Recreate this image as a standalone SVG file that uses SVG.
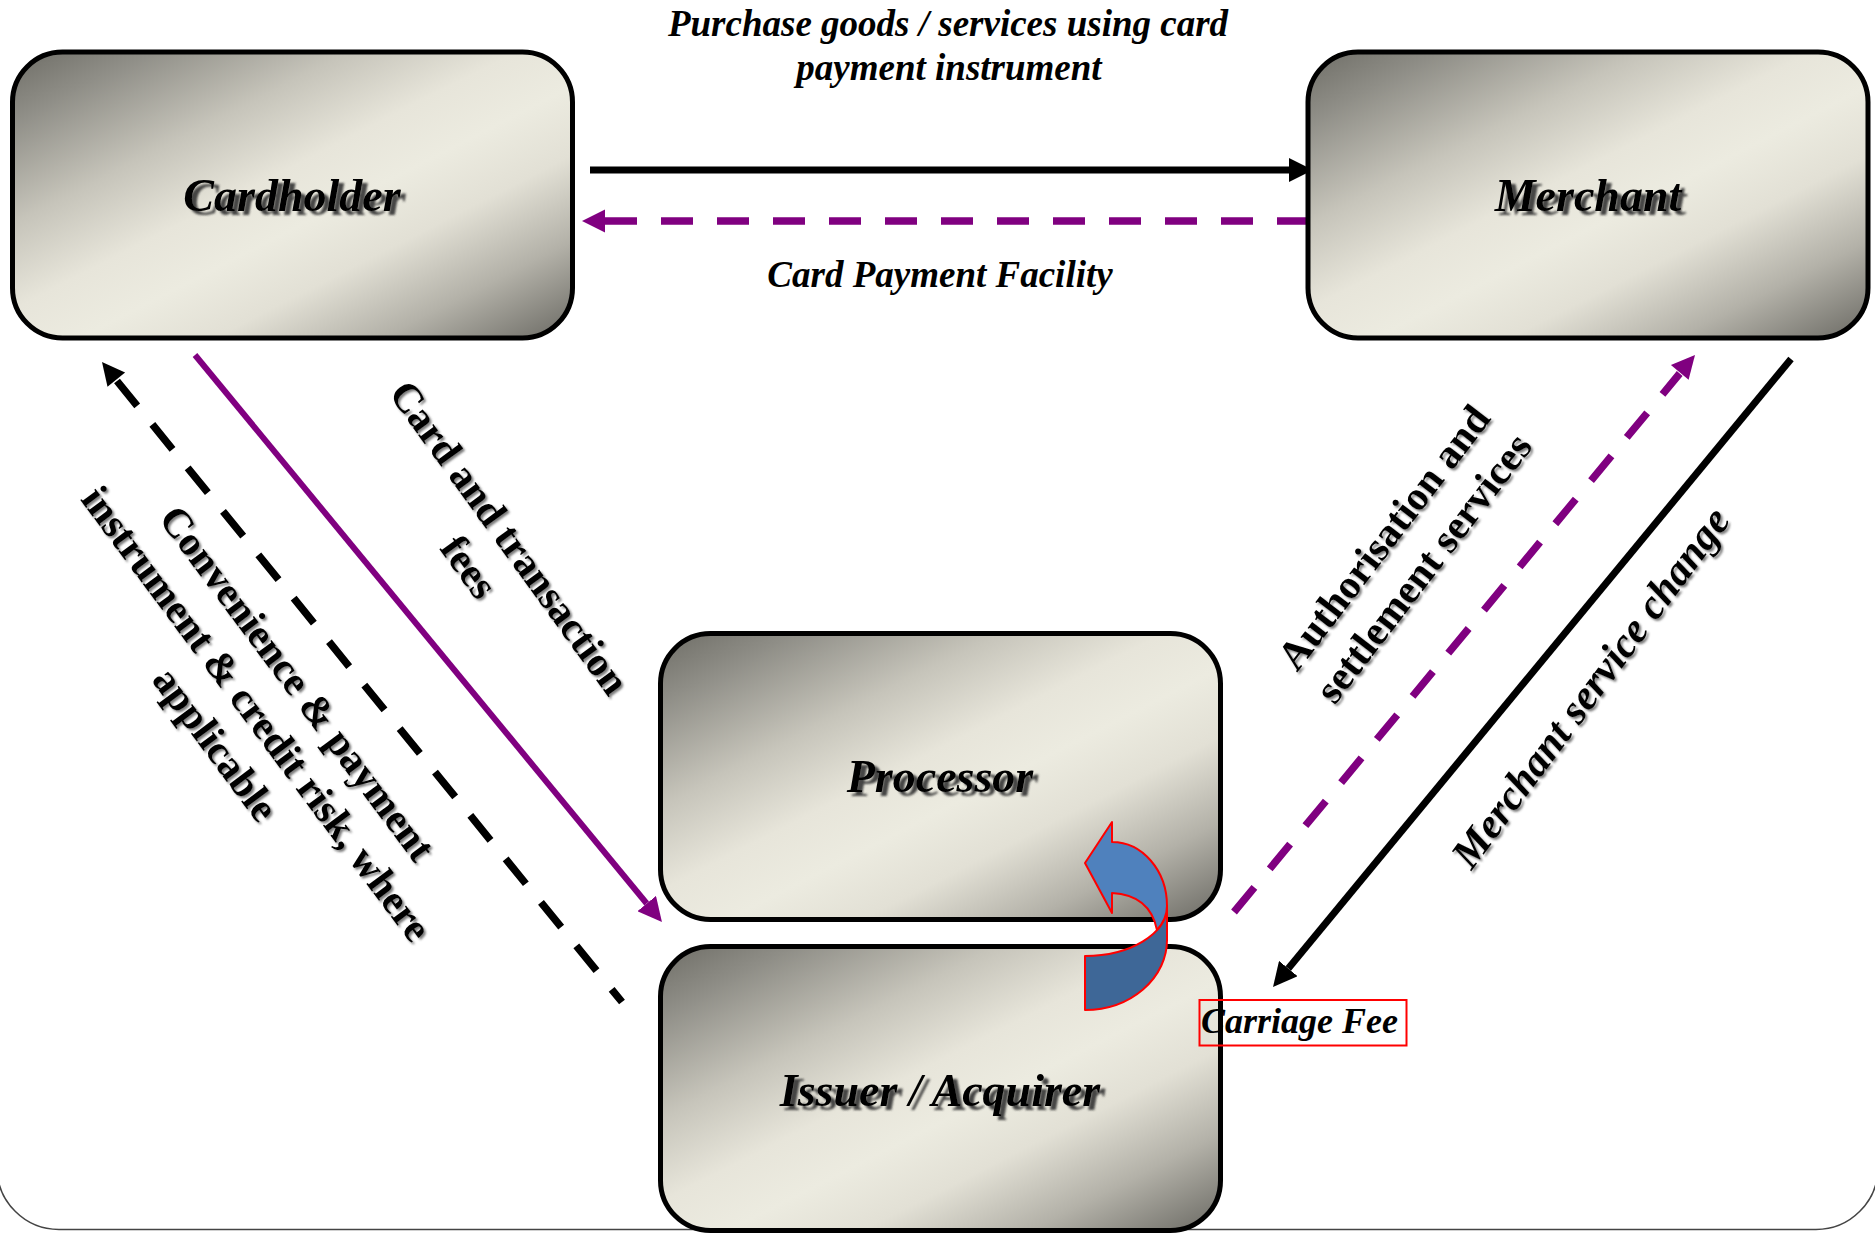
<svg xmlns="http://www.w3.org/2000/svg" width="1875" height="1233" viewBox="0 0 1875 1233">
<defs>
  <linearGradient id="boxg" x1="0" y1="0" x2="1" y2="1">
    <stop offset="0" stop-color="#6e6d66"/>
    <stop offset="0.12" stop-color="#8f8e87"/>
    <stop offset="0.3" stop-color="#c6c4ba"/>
    <stop offset="0.45" stop-color="#e7e5da"/>
    <stop offset="0.56" stop-color="#ecebe0"/>
    <stop offset="0.68" stop-color="#e2e0d5"/>
    <stop offset="0.83" stop-color="#b3b1a8"/>
    <stop offset="1" stop-color="#6a6963"/>
  </linearGradient>
  <filter id="tsh" x="-10%" y="-40%" width="130%" height="190%">
    <feGaussianBlur in="SourceAlpha" stdDeviation="1.3" result="b"/>
    <feOffset in="b" dx="5" dy="4" result="o"/>
    <feFlood flood-color="#333" flood-opacity="0.9"/>
    <feComposite in2="o" operator="in" result="s"/>
    <feMerge><feMergeNode in="s"/><feMergeNode in="SourceGraphic"/></feMerge>
  </filter>
  <filter id="lsh" x="-10%" y="-10%" width="120%" height="120%">
    <feGaussianBlur in="SourceAlpha" stdDeviation="0.9" result="b"/>
    <feOffset in="b" dx="2" dy="2" result="o"/>
    <feFlood flood-color="#444" flood-opacity="0.7"/>
    <feComposite in2="o" operator="in" result="s"/>
    <feMerge><feMergeNode in="s"/><feMergeNode in="SourceGraphic"/></feMerge>
  </filter>
  <marker id="ahK" viewBox="0 0 24 24" refX="0" refY="12" markerWidth="24" markerHeight="24" orient="auto" markerUnits="userSpaceOnUse">
    <path d="M0,0 L24,12 L0,24 Z" fill="#000"/>
  </marker>
  <marker id="ahP" viewBox="0 0 24 24" refX="0" refY="12" markerWidth="24" markerHeight="24" orient="auto" markerUnits="userSpaceOnUse">
    <path d="M0,0 L24,12 L0,24 Z" fill="#800080"/>
  </marker>
  <style>
    .box { fill: url(#boxg); stroke: #000; stroke-width: 5; }
    .title { font-family: "Liberation Serif", "Times New Roman", serif; font-weight: bold; font-style: italic; font-size: 46px; text-anchor: middle; fill: #000; }
    .hl { font-family: "Liberation Serif", "Times New Roman", serif; font-weight: bold; font-style: italic; font-size: 37px; text-anchor: middle; fill: #000; }
    .rl { font-family: "Liberation Serif", "Times New Roman", serif; font-weight: bold; font-size: 41px; text-anchor: middle; fill: #000; }
    .ril { font-family: "Liberation Serif", "Times New Roman", serif; font-weight: bold; font-style: italic; font-size: 42px; text-anchor: middle; fill: #000; }
    .solidK { fill: none; stroke: #000; stroke-width: 7; marker-end: url(#ahK); }
    .dashK { fill: none; stroke: #000; stroke-width: 7.5; stroke-dasharray: 32 24; }
    .solidP { fill: none; stroke: #800080; stroke-width: 6; marker-end: url(#ahP); }
    .dashP { fill: none; stroke: #800080; stroke-width: 7.5; stroke-dasharray: 32 24; }
  </style>
</defs>

<rect x="-3" y="-200" width="1881" height="1429.5" rx="62" fill="none" stroke="#444" stroke-width="1.5"/>

<g id="connectors">
  <path class="solidK" d="M590,170 L1289,170"/>
  <path class="dashP" d="M605,221 L1306,221"/>
  <path d="M605,209.5 L582,221 L605,232.5 Z" fill="#800080"/>
  <path class="solidP" d="M195,355 L646.7,903.5"/>
  <path class="dashK" d="M117,381 L622,1002"/>
  <path d="M102,362 L125.1,372.5 L107.5,386.8 Z" fill="#000"/>
  <path class="dashP" d="M1234,912 L1679.7,373.5"/>
  <path d="M1695,355 L1688.6,379.7 L1670.9,365.1 Z" fill="#800080"/>
  <path class="solidK" d="M1791,359 L1288.3,968.5"/>
</g>

<g id="cardholder">
  <rect class="box" x="12.5" y="52" width="560" height="286" rx="50"/>
  <text class="title" x="292" y="211" filter="url(#tsh)">Cardholder</text>
</g>
<g id="merchant">
  <rect class="box" x="1308" y="52" width="560" height="286" rx="50"/>
  <text class="title" x="1588" y="211" filter="url(#tsh)">Merchant</text>
</g>
<g id="processor">
  <rect class="box" x="660.5" y="633.5" width="560" height="286" rx="50"/>
  <text class="title" x="940" y="792" filter="url(#tsh)">Processor</text>
</g>
<g id="issuer-acquirer">
  <rect class="box" x="660.5" y="946.5" width="560" height="284" rx="50"/>
  <text class="title" x="940" y="1106" filter="url(#tsh)">Issuer / Acquirer</text>
</g>

<g id="carriage-arrow" stroke="#ff0000" stroke-width="2" stroke-linejoin="round">
  <path d="M1085,956 A82,50 0 0 0 1167,906 L1167,940 A82,70 0 0 1 1085,1010 Z" fill="#3e6797"/>
  <path d="M1085,863 L1112,822 L1112,842 A55,64 0 0 1 1167,906 A82,50 0 0 1 1157,930 Q1150,895 1112,893 L1112,913 Z" fill="#4f81bd"/>
</g>

<g id="labels">
  <text class="hl" x="948" y="36">Purchase goods / services using card</text>
  <text class="hl" x="949" y="80">payment instrument</text>
  <text class="hl" x="940" y="287">Card Payment Facility</text>
  <g filter="url(#lsh)">
    <g transform="translate(509,538) rotate(54)">
      <text class="rl" x="0" y="13">Card and transaction</text>
      <text class="rl" x="0" y="63">fees</text>
    </g>
  </g>
  <g filter="url(#lsh)">
    <g transform="translate(256,714) rotate(53.3)">
      <text class="rl" x="0" y="-38">Convenience &amp; payment</text>
      <text class="rl" x="0" y="13">instrument &amp; credit risk, where</text>
      <text class="rl" x="0" y="64">applicable</text>
    </g>
  </g>
  <g filter="url(#lsh)">
    <g transform="translate(1404,553) rotate(-52.5)">
      <text class="rl" x="0" y="-12">Authorisation and</text>
      <text class="rl" x="0" y="38">settlement services</text>
    </g>
  </g>
  <g filter="url(#lsh)">
    <g transform="translate(1591,688) rotate(-53.4)">
      <text class="ril" x="0" y="13">Merchant service change</text>
    </g>
  </g>
  <g id="carriage-fee">
    <rect x="1199.5" y="1000" width="207" height="45.5" fill="none" stroke="#ff0000" stroke-width="2"/>
    <text class="hl" x="1201" y="1033" style="font-size:36px;text-anchor:start">Carriage Fee</text>
  </g>
</g>
</svg>
